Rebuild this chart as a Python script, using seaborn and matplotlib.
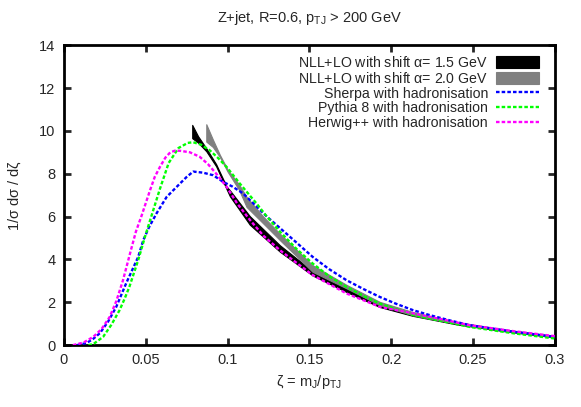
import numpy as np
import pandas as pd
import matplotlib
matplotlib.use("Agg")
import matplotlib.pyplot as plt
import seaborn as sns

# Valori
sherpa_x = [0.008, 0.0139, 0.018, 0.022, 0.027, 0.032, 0.038, 0.0454, 0.0485, 0.052, 0.0566, 0.0628,
            0.0709, 0.075, 0.079, 0.085, 0.0912, 0.0973, 0.103, 0.1095, 0.116, 0.124, 0.136, 0.152,
            0.162, 0.1727, 0.183, 0.193, 0.203, 0.2134, 0.2236, 0.236, 0.248, 0.262, 0.275, 0.288, 0.3]
sherpa_y = [0.0, 0.1, 0.3, 0.56, 1.1, 1.79, 2.88, 4.12, 4.9, 5.5, 6.15, 6.92,
            7.54, 7.85, 8.1, 8.05, 7.93, 7.62, 7.4, 7.08, 6.6, 6.0, 5.2, 4.12,
            3.55, 3.03, 2.62, 2.25, 1.93, 1.63, 1.4, 1.15, 0.93, 0.77, 0.62, 0.5, 0.38]

pythia_x = [0.015, 0.018, 0.024, 0.029, 0.034, 0.037, 0.040, 0.0454, 0.0495, 0.0546, 0.0587, 0.064,
            0.070, 0.0757, 0.079, 0.084, 0.089, 0.094, 0.0994, 0.1075, 0.1177, 0.124, 0.132, 0.142,
            0.152, 0.162, 0.1727, 0.183, 0.193, 0.2134, 0.2236, 0.248, 0.275, 0.3]
pythia_y = [0.0, 0.05, 0.39, 0.95, 1.63, 2.15, 2.72, 3.97, 5.05, 6.3, 7.3, 8.5,
            9.2, 9.44, 9.47, 9.35, 9.1, 8.75, 8.32, 7.54, 6.61, 6.0, 5.3, 4.5,
            3.81, 3.22, 2.72, 2.3, 1.94, 1.40, 1.24, 0.85, 0.55, 0.31]

herwig_x = [0.0055, 0.012, 0.018, 0.023, 0.028, 0.032, 0.036, 0.041, 0.044, 0.0475, 0.0525, 0.0555,
            0.0587, 0.062, 0.065, 0.068, 0.071, 0.077, 0.083, 0.088, 0.093, 0.0994, 0.106, 0.1136,
            0.122, 0.132, 0.152, 0.1727, 0.193, 0.2134, 0.2236, 0.248, 0.275, 0.3]
herwig_y = [0.0, 0.12, 0.39, 0.75, 1.32, 2.05, 3.0, 4.45, 5.3, 6.05, 7.2, 7.85,
            8.32, 8.75, 9.0, 9.08, 9.07, 9.0, 8.79, 8.45, 8.01, 7.39, 6.6, 5.85,
            5.1, 4.43, 3.27, 2.41, 1.79, 1.48, 1.32, 0.93, 0.65, 0.42]

nll15_x = [0.0784, 0.082, 0.087, 0.093, 0.0994, 0.1014, 0.1136, 0.132, 0.152, 0.173, 0.193, 0.213, 0.24, 0.27, 0.3]
nll15_lo = [9.66, 9.45, 9.05, 8.35, 7.28, 6.95, 5.62, 4.36, 3.25, 2.47, 1.78, 1.37, 0.97, 0.64, 0.36]
nll15_hi = [10.28, 9.75, 9.19, 8.45, 7.40, 7.23, 6.02, 4.66, 3.45, 2.66, 1.95, 1.49, 1.06, 0.71, 0.42]

nll20_x = [0.087, 0.091, 0.0953, 0.1, 0.107, 0.1116, 0.1218, 0.132, 0.152, 0.173, 0.193, 0.213, 0.24, 0.27, 0.3]
nll20_lo = [9.5, 9.25, 8.78, 8.1, 7.25, 6.45, 5.68, 4.9, 3.42, 2.64, 1.87, 1.40, 1.0, 0.66, 0.38]
nll20_hi = [10.31, 9.6, 8.88, 8.2, 7.5, 6.92, 6.0, 5.2, 3.73, 2.8, 2.02, 1.55, 1.08, 0.72, 0.43]

labels = ["Sherpa with hadronisation", "Pythia 8 with hadronisation", "Herwig++ with hadronisation"]
colors = ["#0000ff", "#00ff00", "#ff00ff"]

df = pd.concat([
    pd.DataFrame({"zeta": sherpa_x, "val": sherpa_y, "mc": labels[0]}),
    pd.DataFrame({"zeta": pythia_x, "val": pythia_y, "mc": labels[1]}),
    pd.DataFrame({"zeta": herwig_x, "val": herwig_y, "mc": labels[2]}),
])

sns.set_style("ticks")
plt.rcParams["font.family"] = ["Liberation Sans", "DejaVu Sans"]
plt.rcParams["mathtext.fontset"] = "custom"
plt.rcParams["mathtext.rm"] = "Liberation Sans"
plt.rcParams["mathtext.it"] = "Liberation Sans"
plt.rcParams["font.size"] = 10

fig = plt.figure(figsize=(5.81, 4.07), dpi=100)
ax = fig.add_axes([0.110, 0.152, 0.845, 0.737])

# Bande NLL+LO
b1 = ax.fill_between(nll15_x, nll15_lo, nll15_hi, color="black", lw=0.8, edgecolor="black",
                     label=r"NLL+LO with shift $\alpha$= 1.5 GeV", zorder=2)
b2 = ax.fill_between(nll20_x, nll20_lo, nll20_hi, color="#808080", lw=0.8, edgecolor="#808080",
                     label=r"NLL+LO with shift $\alpha$= 2.0 GeV", zorder=2)

sns.lineplot(data=df, x="zeta", y="val", hue="mc", palette=dict(zip(labels, colors)),
             ax=ax, sort=False, lw=1.7, zorder=3, legend=False)
for ln in ax.get_lines():
    ln.set_dashes((1.5, 0.9))

ax.set_xlim(0, 0.3)
ax.set_ylim(0, 14)
ax.set_xticks(np.arange(0, 0.31, 0.05))
ax.set_xticklabels(["0", "0.05", "0.1", "0.15", "0.2", "0.25", "0.3"])
ax.set_yticks(np.arange(0, 15, 2))
ax.tick_params(direction="in", length=5, width=2, top=True, right=True, labelsize=10.5, pad=6)
for s in ax.spines.values():
    s.set_linewidth(2)
    s.set_color("black")

ax.set_xlabel(r"$\zeta$ = m$_\mathrm{J}$/p$_\mathrm{TJ}$", fontsize=10.5)
ax.set_ylabel(r"1/$\sigma$ d$\sigma$ / d$\zeta$", fontsize=10.5, labelpad=12)
ax.set_title(r"Z+jet, R=0.6, p$_\mathrm{TJ}$ > 200 GeV", fontsize=10.5, pad=17)

handles = [b1, b2] + [plt.Line2D([], [], color=c, lw=1.7, dashes=(1.5, 0.9)) for c in colors]
names = [b1.get_label(), b2.get_label()] + labels
ax.legend(handles, names, loc="upper right", bbox_to_anchor=(0.985, 0.995), frameon=False,
          markerfirst=False, handlelength=3.0, handleheight=0.9, labelspacing=0.05,
          handletextpad=0.6, borderaxespad=0.2, fontsize=10.2)

fig.savefig("out.png", dpi=100)
